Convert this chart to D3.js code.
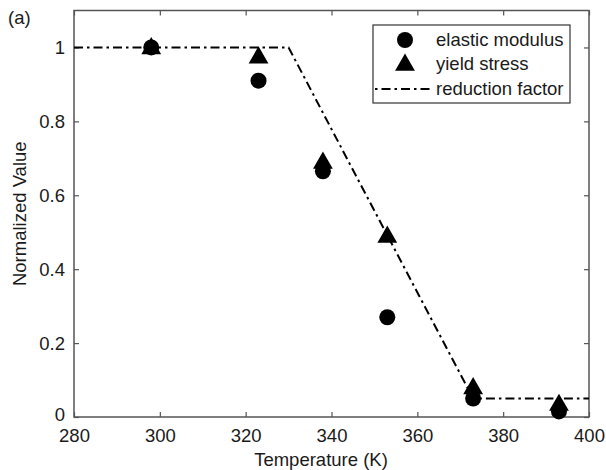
<!DOCTYPE html>
<html>
<head>
<meta charset="utf-8">
<script src="https://cdn.jsdelivr.net/npm/d3@7"></script>
<style>
  html, body { margin: 0; padding: 0; background: #fff; }
  svg { display: block; font-family: "Liberation Sans", Arial, Helvetica, sans-serif; }
</style>
</head>
<body>
<svg id="chart" width="606" height="470"></svg>
<script>
// ---- data ----
const temperatures = [298, 323, 338, 353, 373, 393];
const elasticModulus = [1.0, 0.91, 0.665, 0.27, 0.05, 0.015];
const yieldStress = [1.0, 0.975, 0.69, 0.49, 0.08, 0.035];
const reductionT = [280, 330, 373, 400];
const reductionV = [1.0, 1.0, 0.05, 0.05];
const xTicks = [280, 300, 320, 340, 360, 380, 400];
const yTicks = [0, 0.2, 0.4, 0.6, 0.8, 1];
const yTickLabels = ["0", "0.2", "0.4", "0.6", "0.8", "1"];
const legendLabels = ["elastic modulus", "yield stress", "reduction factor"];

// ---- layout ----
const svg = d3.select("#chart");
const mLeft = 74, mRight = 589, mTop = 10.5, mBottom = 417;
const x = d3.scaleLinear().domain([280, 400]).range([mLeft, mRight]);
const y = d3.scaleLinear().domain([0, 1.1]).range([mBottom, mTop]);
const axisColor = "#555";
const fontSize = 18.5;
const dash = "9,4,2.5,4";

// box
svg.append("rect")
  .attr("x", mLeft).attr("y", mTop)
  .attr("width", mRight - mLeft).attr("height", mBottom - mTop)
  .attr("fill", "none").attr("stroke", axisColor).attr("stroke-width", 1.5);

// axes (inward ticks)
function styleAxis(g) {
  g.select(".domain").remove();
  g.selectAll(".tick line").attr("stroke", axisColor).attr("stroke-width", 1.2);
  g.selectAll(".tick text").attr("fill", "#1a1a1a").attr("font-size", fontSize)
    .attr("font-family", "Liberation Sans, Arial, sans-serif");
}
const xAxis = svg.append("g").attr("transform", `translate(0,${mBottom})`)
  .call(d3.axisBottom(x).tickValues(xTicks).tickSize(-5).tickPadding(12).tickFormat(d3.format("d")));
styleAxis(xAxis);
xAxis.selectAll(".tick text").attr("dy", "0.71em");
const xAxisTop = svg.append("g").attr("transform", `translate(0,${mTop})`)
  .call(d3.axisTop(x).tickValues(xTicks).tickSize(-5).tickFormat(""));
styleAxis(xAxisTop);

const yAxis = svg.append("g").attr("transform", `translate(${mLeft},0)`)
  .call(d3.axisLeft(y).tickValues(yTicks).tickSize(-5).tickPadding(9)
    .tickFormat((d, i) => yTickLabels[i]));
styleAxis(yAxis);
yAxis.selectAll(".tick text").filter(d => d === 0).attr("dy", "0.2em");
const yAxisRight = svg.append("g").attr("transform", `translate(${mRight},0)`)
  .call(d3.axisRight(y).tickValues(yTicks).tickSize(-5).tickFormat(""));
styleAxis(yAxisRight);

// axis titles
svg.append("text").attr("x", 321).attr("y", 466)
  .attr("text-anchor", "middle").attr("font-size", fontSize).attr("fill", "#1a1a1a")
  .text("Temperature (K)");
svg.append("text")
  .attr("transform", `translate(26,${(mTop + mBottom) / 2}) rotate(-90)`)
  .attr("text-anchor", "middle").attr("font-size", fontSize).attr("fill", "#1a1a1a")
  .text("Normalized Value");
svg.append("text").attr("x", 8).attr("y", 24)
  .attr("font-size", fontSize).attr("fill", "#1a1a1a").text("(a)");

// reduction factor line
const line = d3.line().x(d => x(d[0])).y(d => y(d[1]));
svg.append("path")
  .datum(reductionT.map((t, i) => [t, reductionV[i]]))
  .attr("d", line).attr("fill", "none").attr("stroke", "#000")
  .attr("stroke-width", 2).attr("stroke-dasharray", dash);

// markers
const tri = d3.symbol().type(d3.symbolTriangle).size(170);
svg.append("g").selectAll("path")
  .data(temperatures.map((t, i) => [t, yieldStress[i]]))
  .join("path")
  .attr("d", tri)
  .attr("transform", d => `translate(${x(d[0])},${y(d[1]) + 1})`)
  .attr("fill", "#000");
svg.append("g").selectAll("circle")
  .data(temperatures.map((t, i) => [t, elasticModulus[i]]))
  .join("circle")
  .attr("cx", d => x(d[0])).attr("cy", d => y(d[1]))
  .attr("r", 8).attr("fill", "#000");

// legend
const lg = svg.append("g");
lg.append("rect").attr("x", 373).attr("y", 25).attr("width", 197).attr("height", 78)
  .attr("fill", "#fff").attr("stroke", "#333").attr("stroke-width", 1.2);
const rowY = [40, 64, 89];
lg.append("circle").attr("cx", 405).attr("cy", rowY[0]).attr("r", 8).attr("fill", "#000");
lg.append("path").attr("d", tri).attr("transform", `translate(405,${rowY[1] + 1})`).attr("fill", "#000");
lg.append("line").attr("x1", 375).attr("x2", 432).attr("y1", rowY[2]).attr("y2", rowY[2])
  .attr("stroke", "#000").attr("stroke-width", 2).attr("stroke-dasharray", "2.5,4,9,4");
lg.selectAll("text.lab").data(legendLabels).join("text").attr("class", "lab")
  .attr("x", 436).attr("y", (d, i) => rowY[i]).attr("dy", "0.35em")
  .attr("font-size", fontSize).attr("fill", "#1a1a1a").text(d => d);
</script>
</body>
</html>
